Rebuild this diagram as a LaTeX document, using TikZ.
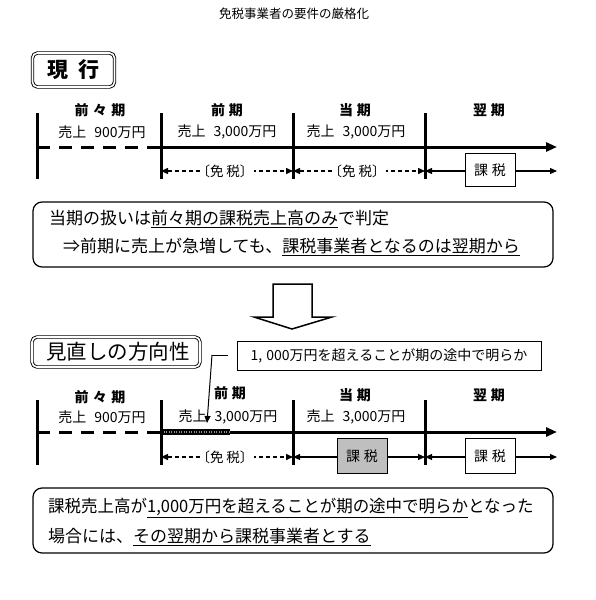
\documentclass[tikz,border=0pt]{standalone}
\usepackage{fontspec}
\setmainfont{Noto Sans CJK JP}
\usetikzlibrary{arrows.meta}
\begin{document}
\begin{tikzpicture}[x=1pt,y=-1pt,
  bar/.style={line width=3pt},
  mainline/.style={line width=3pt},
  dashedseg/.style={line width=3pt,dash pattern=on 13pt off 9pt},
  bigtip/.style={-{Triangle[length=11pt,width=9pt]}},
  exemptarrow/.style={line width=1.4pt,dash pattern=on 4pt off 3pt,{Triangle[length=7pt,width=6pt]}-{Triangle[length=7pt,width=6pt]}},
  taxarrow/.style={line width=1.1pt,{Triangle[length=7pt,width=6pt]}-{Triangle[length=7pt,width=6pt]}},
  periodlbl/.style={inner sep=0pt,font=\fontsize{14}{16}\selectfont\bfseries},
  saleslbl/.style={inner sep=0pt,font=\fontsize{14}{16}\selectfont},
  exemptlbl/.style={fill=white,inner sep=0.5pt,font=\fontsize{13.5}{15}\selectfont},
  taxbox/.style={draw,line width=1pt,fill=white,minimum width=50pt,minimum height=33pt,inner sep=0pt,font=\fontsize{14}{16}\selectfont},
  graytaxbox/.style={taxbox,fill=black!25},
  headbox/.style={draw,double,line width=0.9pt,double distance=1.6pt,rounded corners=5pt,inner sep=0pt},
  notebox/.style={draw,line width=1.2pt,rounded corners=9pt,inner sep=0pt},
  notetext/.style={anchor=west,inner sep=0pt,font=\fontsize{17}{20}\selectfont}
]
\fill[white] (0,0) rectangle (595,600);
\useasboundingbox (0,0) rectangle (595,600);

% title
\node[inner sep=0pt,font=\fontsize{12.5}{15}\selectfont] (title) at (294,14) {免税事業者の要件の厳格化};

% ===== current =====
\node[headbox,minimum width=82pt,minimum height=34pt] (curbox) at (73.5,70) {};
\node[inner sep=0pt,font=\fontsize{21}{24}\selectfont\bfseries] (curtext) at (73.5,70) {現\hspace{11pt}行};

\coordinate (t1a) at (37,113);  \coordinate (b1a) at (37,179);
\coordinate (t1b) at (161,113); \coordinate (b1b) at (161,179);
\coordinate (t1c) at (293,113); \coordinate (b1c) at (293,179);
\coordinate (t1d) at (425,113); \coordinate (b1d) at (425,179);
\coordinate (m1a) at (37,147); \coordinate (m1b) at (161,147); \coordinate (m1e) at (557,147);
\coordinate (r1b) at (161,171); \coordinate (r1c) at (293,171); \coordinate (r1d) at (425,171); \coordinate (r1e) at (557,171);

\draw[dashedseg] (m1a) -- (m1b);
\draw[mainline,bigtip] (m1b) -- (m1e);
\foreach \p in {a,b,c,d} \draw[bar] (t1\p) -- (b1\p);

\node[periodlbl] (p1a) at (100,110) {前\hspace{4.5pt}々\hspace{4.5pt}期};
\node[periodlbl] (p1b) at (227,110) {前\hspace{4pt}期};
\node[periodlbl] (p1c) at (355,110) {当\hspace{4pt}期};
\node[periodlbl] (p1d) at (489,110) {翌\hspace{4pt}期};
\node[saleslbl] (s1a) at (102,132) {売上\hspace{8pt}900万円};
\node[saleslbl] (s1b) at (227,132) {売上\hspace{8pt}3,000万円};
\node[saleslbl] (s1c) at (356,132) {売上\hspace{8pt}3,000万円};

\draw[exemptarrow] (r1b) -- (r1c);
\draw[exemptarrow] (r1c) -- (r1d);
\draw[taxarrow] (r1d) -- (r1e);
\node[exemptlbl] (e1b) at (227,171) {\hspace{-4pt}〔免\hspace{3pt}税〕\hspace{-4pt}};
\node[exemptlbl] (e1c) at (359,171) {\hspace{-4pt}〔免\hspace{3pt}税〕\hspace{-4pt}};
\node[taxbox] (x1d) at (490,170) {課\hspace{4pt}税};

% note box 1
\node[notebox,minimum width=520pt,minimum height=65pt] (note1) at (293,234.5) {};
\node[notetext] (n1l1) at (49,219) {当期の扱いは\underline{前々期の課税売上高のみ}で判定};
\node[notetext] (n1l2) at (63,247) {⇒前期に売上が急増しても、\underline{課税事業者となるのは翌期から}};

% big down arrow
\draw[line width=1.5pt,line join=miter] (273,284) -- (312,284) -- (312,317) -- (332,317) -- (292,329) -- (254,317) -- (273,317) -- cycle;

% ===== revision =====
\node[headbox,minimum width=168pt,minimum height=30pt] (revbox) at (116,352) {};
\node[inner sep=0pt,font=\fontsize{20.5}{24}\selectfont] (revtext) at (118,352) {見直しの方向性};

\node[draw,line width=1pt,minimum width=304pt,minimum height=29pt,inner sep=0pt,font=\fontsize{14}{16}\selectfont] (callout) at (389,355.5) {1,\hspace{4pt}000万円を超えることが期の途中で明らか};

\coordinate (t2a) at (37,400);  \coordinate (b2a) at (37,465);
\coordinate (t2b) at (161,400); \coordinate (b2b) at (161,465);
\coordinate (t2c) at (293,400); \coordinate (b2c) at (293,465);
\coordinate (t2d) at (425,400); \coordinate (b2d) at (425,465);
\coordinate (m2a) at (37,432); \coordinate (m2b) at (161,432); \coordinate (m2h) at (230,432); \coordinate (m2e) at (557,432);
\coordinate (r2b) at (161,457); \coordinate (r2c) at (293,457); \coordinate (r2d) at (425,457); \coordinate (r2e) at (557,457);

\draw[dashedseg] (m2a) -- (m2b);
\draw[mainline,bigtip] (m2b) -- (m2e);
\draw[line width=5.5pt] (m2b) -- (m2h);
\draw[line width=2.5pt,black!45,dash pattern=on 1pt off 1.5pt] (m2b) -- (m2h);
\foreach \p in {a,b,c,d} \draw[bar] (t2\p) -- (b2\p);

\node[periodlbl] (p2a) at (100,397) {前\hspace{4.5pt}々\hspace{4.5pt}期};
\node[periodlbl] (p2b) at (230,393) {前\hspace{4pt}期};
\node[periodlbl] (p2c) at (355,395) {当\hspace{4pt}期};
\node[periodlbl] (p2d) at (489,395) {翌\hspace{4pt}期};
\node[saleslbl] (s2a) at (102,417) {売上\hspace{8pt}900万円};
\node[saleslbl] (s2b) at (228,417) {売上\hspace{8pt}3,000万円};
\node[saleslbl] (s2c) at (356,417) {売上\hspace{8pt}3,000万円};

% leader from callout
\coordinate (lead1) at (228,355);
\coordinate (lead2) at (212,355);
\coordinate (lead3) at (207,423);
\draw[line width=1pt] (lead1) -- (lead2);
\draw[line width=1pt,-{Triangle[length=7pt,width=6pt]}] (lead2) -- (lead3);

\draw[exemptarrow] (r2b) -- (r2c);
\draw[taxarrow] (r2c) -- (r2d);
\draw[taxarrow] (r2d) -- (r2e);
\node[exemptlbl] (e2b) at (227,457) {\hspace{-4pt}〔免\hspace{3pt}税〕\hspace{-4pt}};
\node[graytaxbox,minimum height=35pt] (x2c) at (362,456) {課\hspace{4pt}税};
\node[taxbox,minimum height=35pt] (x2d) at (490,456) {課\hspace{4pt}税};

% note box 2
\node[notebox,minimum width=520pt,minimum height=65pt] (note2) at (293,520.5) {};
\node[notetext] (n2l1) at (48,508) {\scalebox{0.97}[1]{課税売上高が\underline{1,000万円を超えることが期の途中で明らか}となった}};
\node[notetext] (n2l2) at (48,537) {場合には、\underline{その翌期から課税事業者とする}};
\end{tikzpicture}
\end{document}
